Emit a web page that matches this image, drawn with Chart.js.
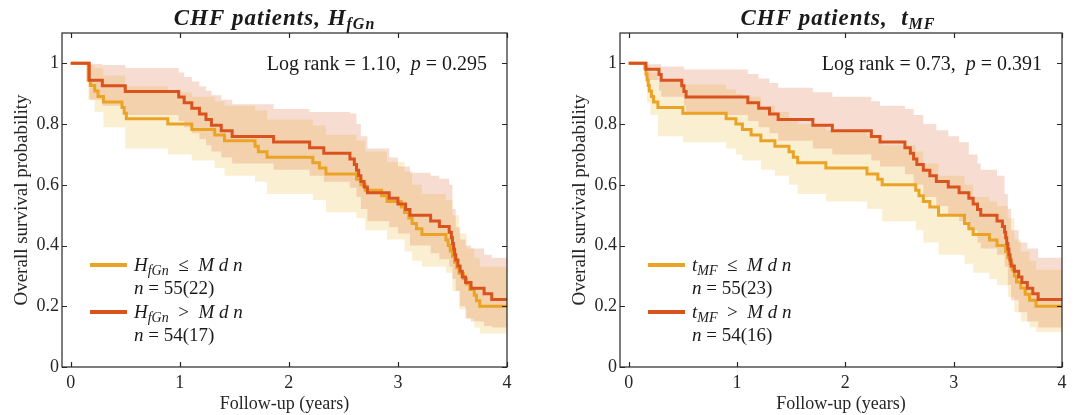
<!DOCTYPE html>
<html>
<head>
<meta charset="utf-8">
<script src="https://cdn.jsdelivr.net/npm/chart.js@4/dist/chart.umd.min.js"></script>
<style>
  html, body { margin: 0; padding: 0; background: #fff; }
  body { width: 1077px; height: 415px; overflow: hidden; position: relative; }
  .panel { position: absolute; top: 0; height: 415px; }
</style>
</head>
<body>
<div class="panel" style="left:0;width:540px"><canvas id="hfgn"></canvas></div>
<div class="panel" style="left:540px;width:537px"><canvas id="tmf"></canvas></div>
<script>
// ---- axis ticks ----
const xTicks = [0, 1, 2, 3, 4];
const xTickLabels = ['0', '1', '2', '3', '4'];
const yTicks = [0, 0.2, 0.4, 0.6, 0.8, 1];
const yTickLabels = ['0', '0.2', '0.4', '0.6', '0.8', '1'];

// ---- left panel: H_fGn ----
// H_fGn <= Mdn (orange)
const hLowT = [0, 0.16, 0.18, 0.22, 0.25, 0.3, 0.47, 0.49, 0.51, 0.89, 1.11, 1.32, 1.41, 1.69, 1.72, 1.8, 2.22, 2.28, 2.34, 2.62, 2.66, 2.7, 2.85, 2.9, 3.03, 3.06, 3.1, 3.13, 3.17, 3.22, 3.44, 3.46, 3.48, 3.5, 3.52, 3.54, 3.56, 3.6, 3.63, 3.66, 3.7, 3.72, 3.75, 4];
const hLowS = [1, 0.945, 0.927, 0.909, 0.891, 0.873, 0.855, 0.836, 0.818, 0.8, 0.782, 0.764, 0.745, 0.727, 0.709, 0.691, 0.673, 0.655, 0.636, 0.618, 0.6, 0.582, 0.564, 0.545, 0.527, 0.509, 0.491, 0.473, 0.455, 0.436, 0.418, 0.4, 0.382, 0.364, 0.345, 0.327, 0.309, 0.291, 0.273, 0.255, 0.236, 0.218, 0.2, 0.2];
const hLowBandT = [0.16, 0.22, 0.3, 0.5, 0.89, 1.11, 1.32, 1.41, 1.69, 1.8, 2.22, 2.34, 2.62, 2.7, 2.9, 3.06, 3.13, 3.22, 3.44, 3.5, 3.56, 3.63, 3.7, 3.75, 4];
const hLowLo = [0.88, 0.84, 0.79, 0.72, 0.70, 0.68, 0.655, 0.63, 0.61, 0.57, 0.55, 0.51, 0.49, 0.45, 0.42, 0.38, 0.35, 0.33, 0.31, 0.25, 0.19, 0.16, 0.13, 0.11, 0.11];
const hLowHi = [0.995, 0.985, 0.96, 0.925, 0.905, 0.89, 0.875, 0.86, 0.845, 0.815, 0.795, 0.765, 0.745, 0.71, 0.675, 0.645, 0.6, 0.57, 0.55, 0.5, 0.44, 0.39, 0.36, 0.33, 0.33];
// H_fGn > Mdn (red)
const hHighT = [0, 0.17, 0.29, 0.5, 0.99, 1.04, 1.11, 1.18, 1.24, 1.29, 1.38, 1.48, 1.86, 2.19, 2.32, 2.56, 2.6, 2.62, 2.64, 2.66, 2.69, 2.72, 2.92, 3.0, 3.07, 3.11, 3.3, 3.38, 3.47, 3.49, 3.5, 3.51, 3.52, 3.53, 3.55, 3.57, 3.59, 3.62, 3.67, 3.79, 3.86, 4];
const hHighS = [1, 0.944, 0.926, 0.907, 0.889, 0.87, 0.852, 0.833, 0.815, 0.796, 0.778, 0.759, 0.741, 0.722, 0.704, 0.685, 0.667, 0.648, 0.63, 0.611, 0.593, 0.574, 0.556, 0.537, 0.519, 0.5, 0.481, 0.463, 0.444, 0.426, 0.407, 0.389, 0.37, 0.352, 0.333, 0.315, 0.296, 0.278, 0.259, 0.241, 0.222, 0.222];
const hHighBandT = [0.17, 0.29, 0.5, 0.99, 1.04, 1.11, 1.18, 1.24, 1.29, 1.38, 1.48, 1.86, 2.19, 2.32, 2.56, 2.62, 2.66, 2.72, 2.92, 3.0, 3.11, 3.3, 3.38, 3.47, 3.5, 3.53, 3.57, 3.62, 3.67, 3.79, 3.86, 4];
const hHighLo = [0.88, 0.86, 0.83, 0.81, 0.79, 0.77, 0.75, 0.73, 0.71, 0.69, 0.67, 0.65, 0.63, 0.61, 0.59, 0.56, 0.52, 0.48, 0.46, 0.44, 0.40, 0.375, 0.355, 0.33, 0.29, 0.25, 0.2, 0.16, 0.15, 0.135, 0.13, 0.13];
const hHighHi = [0.998, 0.995, 0.985, 0.97, 0.955, 0.94, 0.925, 0.91, 0.895, 0.88, 0.865, 0.85, 0.84, 0.84, 0.835, 0.80, 0.76, 0.72, 0.69, 0.66, 0.64, 0.63, 0.62, 0.60, 0.52, 0.46, 0.42, 0.40, 0.39, 0.37, 0.36, 0.36];

// ---- right panel: t_MF ----
// t_MF <= Mdn (orange)
const tLowT = [0, 0.15, 0.16, 0.17, 0.18, 0.19, 0.21, 0.23, 0.27, 0.5, 0.9, 0.99, 1.05, 1.13, 1.22, 1.35, 1.48, 1.52, 1.56, 1.82, 2.2, 2.3, 2.34, 2.65, 2.68, 2.72, 2.78, 2.86, 3.1, 3.14, 3.18, 3.33, 3.4, 3.48, 3.5, 3.52, 3.54, 3.56, 3.58, 3.62, 3.66, 3.7, 3.76, 4];
const tLowS = [1, 0.982, 0.964, 0.945, 0.927, 0.909, 0.891, 0.873, 0.855, 0.836, 0.818, 0.8, 0.782, 0.764, 0.745, 0.727, 0.709, 0.691, 0.673, 0.655, 0.636, 0.618, 0.6, 0.582, 0.564, 0.545, 0.527, 0.5, 0.473, 0.455, 0.436, 0.418, 0.4, 0.38, 0.36, 0.34, 0.32, 0.3, 0.28, 0.26, 0.24, 0.22, 0.2, 0.2];
const tLowBandT = [0.15, 0.17, 0.2, 0.27, 0.5, 0.9, 0.99, 1.05, 1.22, 1.35, 1.48, 1.56, 1.82, 2.2, 2.34, 2.65, 2.72, 2.86, 3.1, 3.18, 3.33, 3.4, 3.5, 3.56, 3.62, 3.7, 3.76, 4];
const tLowLo = [0.95, 0.87, 0.83, 0.76, 0.74, 0.72, 0.70, 0.68, 0.65, 0.63, 0.60, 0.57, 0.545, 0.52, 0.48, 0.45, 0.41, 0.37, 0.34, 0.31, 0.29, 0.27, 0.23, 0.18, 0.15, 0.13, 0.115, 0.115];
const tLowHi = [1, 0.99, 0.97, 0.94, 0.93, 0.915, 0.90, 0.89, 0.86, 0.84, 0.82, 0.80, 0.78, 0.76, 0.73, 0.71, 0.67, 0.63, 0.60, 0.56, 0.545, 0.53, 0.49, 0.42, 0.38, 0.35, 0.32, 0.32];
// t_MF > Mdn (red)
const tHighT = [0, 0.16, 0.28, 0.3, 0.49, 0.51, 0.53, 1.1, 1.2, 1.3, 1.38, 1.7, 1.88, 2.24, 2.32, 2.55, 2.6, 2.63, 2.66, 2.72, 2.78, 2.84, 2.95, 3.05, 3.14, 3.18, 3.22, 3.25, 3.4, 3.45, 3.47, 3.48, 3.49, 3.5, 3.51, 3.52, 3.53, 3.56, 3.6, 3.63, 3.68, 3.73, 3.78, 4];
const tHighS = [1, 0.981, 0.963, 0.944, 0.926, 0.907, 0.889, 0.87, 0.852, 0.833, 0.815, 0.796, 0.778, 0.759, 0.741, 0.722, 0.704, 0.685, 0.667, 0.648, 0.63, 0.611, 0.593, 0.574, 0.556, 0.537, 0.519, 0.5, 0.481, 0.463, 0.444, 0.426, 0.407, 0.389, 0.37, 0.352, 0.333, 0.315, 0.296, 0.278, 0.259, 0.241, 0.222, 0.222];
const tHighBandT = [0.16, 0.28, 0.3, 0.51, 0.53, 1.1, 1.2, 1.3, 1.38, 1.7, 1.88, 2.24, 2.32, 2.55, 2.63, 2.72, 2.84, 2.95, 3.05, 3.14, 3.22, 3.25, 3.4, 3.47, 3.5, 3.53, 3.6, 3.68, 3.78, 4];
const tHighLo = [0.945, 0.91, 0.89, 0.86, 0.83, 0.81, 0.79, 0.77, 0.745, 0.72, 0.70, 0.68, 0.66, 0.635, 0.6, 0.56, 0.53, 0.50, 0.48, 0.45, 0.41, 0.39, 0.37, 0.33, 0.27, 0.22, 0.18, 0.15, 0.13, 0.13];
const tHighHi = [0.997, 0.997, 0.99, 0.98, 0.98, 0.965, 0.95, 0.935, 0.92, 0.905, 0.89, 0.875, 0.86, 0.85, 0.83, 0.80, 0.78, 0.76, 0.74, 0.70, 0.67, 0.65, 0.63, 0.57, 0.52, 0.45, 0.41, 0.39, 0.36, 0.36];

const ORANGE = '#EBA326';
const RED = '#D9531E';
const ORANGE_BAND = 'rgba(237,177,32,0.2)';
const RED_BAND = 'rgba(217,83,25,0.2)';
const INK = '#262626';
const FAMILY = '"Liberation Serif", "Times New Roman", serif';

function font(size, style) {
  return (style || '') + ' ' + size + 'px ' + FAMILY;
}

function pts(t, v) {
  return t.map((x, i) => ({ x, y: v[i] }));
}

// draws a run of text pieces: [text, font, dy]
function drawRich(ctx, parts, x, y, align) {
  let w = 0;
  parts.forEach((p) => { ctx.font = p[1]; w += ctx.measureText(p[0]).width; });
  let cx = align === 'center' ? x - w / 2 : align === 'right' ? x - w : x;
  parts.forEach((p) => {
    ctx.font = p[1];
    ctx.fillText(p[0], cx, y + (p[2] || 0));
    cx += ctx.measureText(p[0]).width;
  });
}

const boxPlugin = {
  id: 'box',
  afterDraw(chart) {
    const { ctx, chartArea: a, scales: { x, y } } = chart;
    ctx.save();
    ctx.strokeStyle = INK;
    ctx.lineWidth = 1.2;
    ctx.strokeRect(a.left, a.top, a.right - a.left, a.bottom - a.top);
    ctx.beginPath();
    x.ticks.forEach((t) => {
      const px = Math.round(x.getPixelForValue(t.value)) + 0.5;
      ctx.moveTo(px, a.bottom); ctx.lineTo(px, a.bottom - 5);
      ctx.moveTo(px, a.top); ctx.lineTo(px, a.top + 5);
    });
    y.ticks.forEach((t) => {
      const py = Math.round(y.getPixelForValue(t.value)) + 0.5;
      ctx.moveTo(a.left, py); ctx.lineTo(a.left + 5, py);
      ctx.moveTo(a.right, py); ctx.lineTo(a.right - 5, py);
    });
    ctx.stroke();
    ctx.restore();
  }
};

const textPlugin = {
  id: 'kmText',
  afterDraw(chart, args, o) {
    const { ctx, chartArea: a } = chart;
    ctx.save();
    ctx.fillStyle = '#1a1a1a';
    ctx.textBaseline = 'alphabetic';
    ctx.letterSpacing = '1px';
    drawRich(ctx, o.title, (a.left + a.right) / 2 + o.titleShift, 25, 'center');
    ctx.letterSpacing = '0px';
    drawRich(ctx, o.stat, a.right - 20, 70, 'right');
    o.legend.forEach((item, i) => {
      const y = 265 + i * 47;
      ctx.strokeStyle = item.color;
      ctx.lineWidth = 4;
      ctx.beginPath();
      ctx.moveTo(a.left + 28, y);
      ctx.lineTo(a.left + 65, y);
      ctx.stroke();
      drawRich(ctx, item.label, a.left + 72, y + 6, 'left');
      drawRich(ctx, item.count, a.left + 72, y + 29, 'left');
    });
    ctx.restore();
  }
};

function lineSet(data, color, order) {
  return {
    data, borderColor: color, borderWidth: 3, pointRadius: 0, stepped: 'before',
    fill: false, order, borderJoinStyle: 'miter', borderCapStyle: 'butt'
  };
}

function bandSet(data, color, fill) {
  return {
    data, borderWidth: 0, borderColor: 'rgba(0,0,0,0)', backgroundColor: color,
    pointRadius: 0, stepped: 'before', fill, order: 10
  };
}

function makeChart(id, g) {
  return new Chart(document.getElementById(id), {
    type: 'line',
    data: {
      datasets: [
        lineSet(pts(g.highT, g.highS), RED, 1),
        lineSet(pts(g.lowT, g.lowS), ORANGE, 2),
        bandSet(pts(g.highBandT, g.highHi), RED_BAND, '+1'),
        bandSet(pts(g.highBandT, g.highLo), 'rgba(0,0,0,0)', false),
        bandSet(pts(g.lowBandT, g.lowHi), ORANGE_BAND, '+1'),
        bandSet(pts(g.lowBandT, g.lowLo), 'rgba(0,0,0,0)', false)
      ]
    },
    options: {
      responsive: true,
      maintainAspectRatio: false,
      animation: false,
      events: [],
      layout: { padding: { left: g.padLeft, right: g.padRight, top: 33, bottom: 0 } },
      plugins: {
        legend: { display: false },
        tooltip: { enabled: false },
        kmText: { title: g.title, titleShift: g.titleShift, stat: g.stat, legend: g.legend }
      },
      scales: {
        x: {
          type: 'linear', min: -0.08, max: 4,
          afterBuildTicks: (s) => { s.ticks = xTicks.map((v) => ({ value: v })); },
          afterFit: (s) => { s.height = 48; },
          grid: { display: false, drawTicks: false },
          border: { display: false },
          ticks: {
            color: INK, padding: 5, maxRotation: 0, autoSkip: false,
            font: { family: FAMILY, size: 18 },
            callback: (v, i) => xTickLabels[i]
          },
          title: {
            display: true, text: 'Follow-up (years)', color: INK, padding: 0,
            font: { family: FAMILY, size: 18 }
          }
        },
        y: {
          min: 0, max: 1.1,
          afterBuildTicks: (s) => { s.ticks = yTicks.map((v) => ({ value: v })); },
          afterFit: (s) => { s.width = 62; },
          grid: { display: false, drawTicks: false },
          border: { display: false },
          ticks: {
            color: INK, padding: 3, autoSkip: false,
            font: { family: FAMILY, size: 18 },
            callback: (v, i) => yTickLabels[i]
          },
          title: {
            display: true, text: 'Overall survival probability', color: INK,
            padding: { top: 11, bottom: 0 },
            font: { family: FAMILY, size: 19 }
          }
        }
      }
    },
    plugins: [boxPlugin, textPlugin]
  });
}

const R20 = font(20), I20 = font(20, 'italic');
const R19 = font(19), I19 = font(19, 'italic'), I14 = font(14, 'italic');
const BI23 = font(23, 'italic bold'), BI16 = font(16, 'italic bold');

makeChart('hfgn', {
  lowT: hLowT, lowS: hLowS, lowBandT: hLowBandT, lowLo: hLowLo, lowHi: hLowHi,
  highT: hHighT, highS: hHighS, highBandT: hHighBandT, highLo: hHighLo, highHi: hHighHi,
  padLeft: 0, padRight: 33, titleShift: -10,
  title: [['CHF patients, ', BI23], ['H', BI23], ['fGn', BI16, 4]],
  stat: [['Log rank = 1.10,  ', R20], ['p', I20], [' = 0.295', R20]],
  legend: [
    { color: ORANGE, label: [['H', I19], ['fGn', I14, 4], ['  \u2264  ', R19], ['M d n', I19]], count: [['n', I19], [' = 55(22)', R19]] },
    { color: RED, label: [['H', I19], ['fGn', I14, 4], ['  >  ', R19], ['M d n', I19]], count: [['n', I19], [' = 54(17)', R19]] }
  ]
});

makeChart('tmf', {
  lowT: tLowT, lowS: tLowS, lowBandT: tLowBandT, lowLo: tLowLo, lowHi: tLowHi,
  highT: tHighT, highS: tHighS, highBandT: tHighBandT, highLo: tHighLo, highHi: tHighHi,
  padLeft: 18, padRight: 15, titleShift: -3,
  title: [['CHF patients,  ', BI23], ['t', BI23], ['MF', BI16, 4]],
  stat: [['Log rank = 0.73,  ', R20], ['p', I20], [' = 0.391', R20]],
  legend: [
    { color: ORANGE, label: [['t', I19], ['MF', I14, 4], ['  \u2264  ', R19], ['M d n', I19]], count: [['n', I19], [' = 55(23)', R19]] },
    { color: RED, label: [['t', I19], ['MF', I14, 4], ['  >  ', R19], ['M d n', I19]], count: [['n', I19], [' = 54(16)', R19]] }
  ]
});
</script>
</body>
</html>
